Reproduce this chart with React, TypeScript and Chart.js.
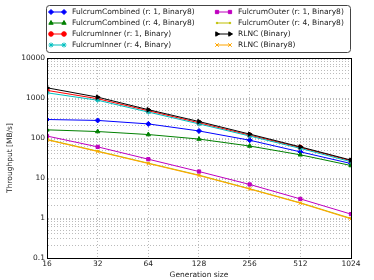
import React, { useEffect, useRef } from 'react';
import { Chart, registerables } from 'chart.js';
import { drawPoint } from 'chart.js/helpers';

Chart.register(...registerables);

const generationSizes = [16, 32, 64, 128, 256, 512, 1024];
const xTickLabels = ['16', '32', '64', '128', '256', '512', '1024'];
const yMajorTicks = [0.1, 1, 10, 100, 1000, 10000];
const yTickLabels = ['0.1', '1', '10', '100', '1000', '10000'];

const combinedR1 = [290, 275, 225, 150, 88, 45, 23];
const combinedR4 = [160, 145, 122, 94, 63, 38, 20.5];
const innerR1 = [1550, 960, 480, 240, 118, 58, 27];
const innerR4 = [1350, 880, 445, 225, 112, 55, 25.5];
const outerR1 = [112, 60, 29.5, 14.5, 6.9, 3.0, 1.25];
const outerR4 = [92, 47, 23.5, 11.8, 5.4, 2.4, 0.98];
const rlncBinary = [1800, 1050, 510, 258, 125, 60, 28];
const rlncBinary8 = [90, 46, 23, 11.5, 5.3, 2.35, 0.95];

const seriesLabels = [
  'FulcrumCombined (r: 1, Binary8)',
  'FulcrumCombined (r: 4, Binary8)',
  'FulcrumInner (r: 1, Binary)',
  'FulcrumInner (r: 4, Binary)',
  'FulcrumOuter (r: 1, Binary8)',
  'FulcrumOuter (r: 4, Binary8)',
  'RLNC (Binary)',
  'RLNC (Binary8)',
];
const seriesData = [combinedR1, combinedR4, innerR1, innerR4, outerR1, outerR4, rlncBinary, rlncBinary8];
const seriesColors = ['#0000ff', '#008000', '#ff0000', '#00bfbf', '#bf00bf', '#bfbf00', '#000000', '#ffa500'];
const seriesStyles: any[] = ['rectRot', 'triangle', 'circle', 'star', 'rect', 'circle', 'triangle', 'crossRot'];
const seriesRot = [0, 0, 0, 0, 0, 0, 90, 0];
const seriesRadius = [2.5, 2.5, 2.3, 2.5, 2.3, 0.8, 2.5, 2.5];

const FONT = 'DejaVu Sans';

const legendPlugin = {
  id: 'mplLegend',
  afterDraw(chart: any) {
    const ctx = chart.ctx;
    const a = chart.chartArea;
    ctx.save();
    ctx.strokeStyle = '#000';
    ctx.lineWidth = 1;
    ctx.strokeRect(Math.round(a.left) + 0.5, Math.round(a.top) + 0.5, Math.round(a.right - a.left), Math.round(a.bottom - a.top));
    const bx = 46.5, by = 5.5, bw = 304, bh = 47, r = 3;
    ctx.beginPath();
    ctx.moveTo(bx + r, by);
    ctx.lineTo(bx + bw - r, by);
    ctx.quadraticCurveTo(bx + bw, by, bx + bw, by + r);
    ctx.lineTo(bx + bw, by + bh - r);
    ctx.quadraticCurveTo(bx + bw, by + bh, bx + bw - r, by + bh);
    ctx.lineTo(bx + r, by + bh);
    ctx.quadraticCurveTo(bx, by + bh, bx, by + bh - r);
    ctx.lineTo(bx, by + r);
    ctx.quadraticCurveTo(bx, by, bx + r, by);
    ctx.closePath();
    ctx.fillStyle = '#fff';
    ctx.fill();
    ctx.strokeStyle = '#444';
    ctx.stroke();
    ctx.font = `7.5px "${FONT}"`;
    ctx.textBaseline = 'middle';
    ctx.textAlign = 'left';
    for (let i = 0; i < seriesLabels.length; i++) {
      const col = Math.floor(i / 4);
      const row = i % 4;
      const y = 12 + row * 11;
      const x0 = col === 0 ? 51 : 217;
      const x1 = x0 + 13;
      ctx.strokeStyle = seriesColors[i];
      ctx.lineWidth = 1;
      ctx.beginPath();
      ctx.moveTo(x0, y);
      ctx.lineTo(x1, y);
      ctx.stroke();
      const opts = {
        pointStyle: seriesStyles[i],
        radius: seriesRadius[i],
        rotation: seriesRot[i],
        borderWidth: 1,
      };
      ctx.fillStyle = seriesColors[i];
      ctx.strokeStyle = seriesColors[i];
      drawPoint(ctx, opts as any, x0, y);
      drawPoint(ctx, opts as any, x1, y);
      ctx.fillStyle = '#222';
      ctx.fillText(seriesLabels[i], x0 + 21, y + 0.5);
    }
    ctx.restore();
  },
};

export default function App() {
  const ref = useRef<HTMLCanvasElement>(null);
  useEffect(() => {
    document.body.style.margin = '0';
    const datasets = seriesLabels.map((label, i) => ({
      label,
      data: generationSizes.map((g, j) => ({ x: g, y: seriesData[i][j] })),
      borderColor: seriesColors[i],
      backgroundColor: seriesColors[i],
      pointStyle: seriesStyles[i],
      pointRotation: seriesRot[i],
      pointRadius: seriesRadius[i],
      pointBorderWidth: 1,
      borderWidth: 1,
      order: seriesLabels.length - i,
    }));
    const chart = new Chart(ref.current!, {
      type: 'line',
      data: { datasets },
      plugins: [legendPlugin],
      options: {
        animation: false,
        responsive: false,
        layout: { padding: { top: 58, right: 23, left: 0, bottom: 0 } },
        plugins: { legend: { display: false }, tooltip: { enabled: false } },
        scales: {
          x: {
            type: 'logarithmic',
            min: 16,
            max: 1024,
            afterBuildTicks: (s: any) => {
              s.ticks = generationSizes.map((v) => ({ value: v }));
            },
            afterFit: (s: any) => {
              s.height = 22;
            },
            ticks: {
              autoSkip: false,
              maxRotation: 0,
              padding: 2,
              color: '#222',
              font: { family: FONT, size: 7.5 },
              callback: (v: any) => {
                const i = generationSizes.indexOf(Number(v));
                return i >= 0 ? xTickLabels[i] : '';
              },
            },
            grid: { color: '#aaa', lineWidth: 0.8, tickLength: 0 },
            border: { color: '#000', dash: [1, 2] },
            title: { display: true, text: 'Generation size', color: '#222', font: { family: FONT, size: 7.5 }, padding: { top: 0, bottom: 0 } },
          },
          y: {
            type: 'logarithmic',
            min: 0.1,
            max: 10000,
            afterBuildTicks: (s: any) => {
              const t: any[] = [];
              yMajorTicks.forEach((m, k) => {
                t.push({ value: m, major: true });
                if (k < yMajorTicks.length - 1) {
                  for (let d = 2; d <= 9; d++) t.push({ value: m * d });
                }
              });
              s.ticks = t;
            },
            afterFit: (s: any) => {
              s.width = 47;
            },
            ticks: {
              autoSkip: false,
              padding: 2,
              color: '#222',
              font: { family: FONT, size: 7.5 },
              callback: (v: any) => {
                const i = yMajorTicks.findIndex((m) => Math.abs(m - Number(v)) / m < 1e-6);
                return i >= 0 ? yTickLabels[i] : '';
              },
            },
            grid: { color: '#aaa', lineWidth: 0.8, tickLength: 0 },
            border: { color: '#000', dash: [1, 2] },
            title: { display: true, text: 'Throughput [MB/s]', color: '#222', font: { family: FONT, size: 7.5 }, padding: { top: 6, bottom: 0 } },
          },
        },
      },
    });
    return () => chart.destroy();
  }, []);
  return (
    <div style={{ width: 374, height: 280 }}>
      <canvas ref={ref} width={374} height={280} style={{ display: 'block' }} />
    </div>
  );
}
